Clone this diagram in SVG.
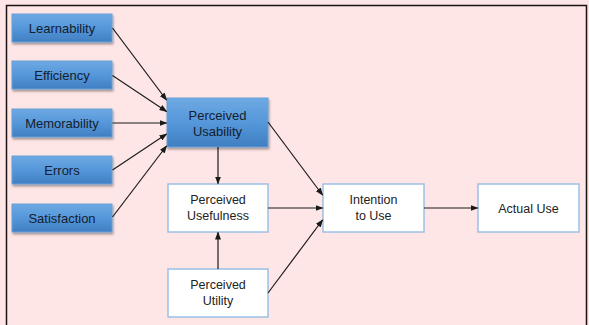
<svg xmlns="http://www.w3.org/2000/svg" width="589" height="325" viewBox="0 0 589 325">
<defs>
<linearGradient id="blue" x1="0" y1="0" x2="0" y2="1">
<stop offset="0" stop-color="#6ea9e2"/>
<stop offset="0.5" stop-color="#5597da"/>
<stop offset="1" stop-color="#3f7fc2"/>
</linearGradient>
<filter id="sh" x="-10%" y="-10%" width="130%" height="140%">
<feDropShadow dx="1" dy="2" stdDeviation="1.2" flood-color="#000" flood-opacity="0.35"/>
</filter>
<marker id="ah" markerWidth="8" markerHeight="6" refX="7" refY="3" orient="auto" markerUnits="userSpaceOnUse">
<path d="M0,0 L8,3 L0,6 Z" fill="#1a1a1a"/>
</marker>
</defs>
<style>
.b rect{fill:url(#blue);stroke:#6b9fd6;stroke-width:1;filter:url(#sh)}
.w rect{fill:#fff;stroke:#9cc0e6;stroke-width:1.5}
text{font-family:"Liberation Sans",Arial,sans-serif;font-size:12.5px;text-anchor:middle;fill:#222}
.b text{font-size:13px;fill:#14202e}
.c line{stroke:#1a1a1a;stroke-width:1.2;marker-end:url(#ah)}
</style>
<rect x="0" y="0" width="589" height="325" fill="#ffe6e6"/>
<path d="M6.5,325 V5.5 H586.5 V325" fill="none" stroke="#1a1111" stroke-width="1.5"/>
<g id="learnability" class="b"><rect x="12" y="14" width="100" height="28"/><text x="62" y="32.5">Learnability</text></g>
<g id="efficiency" class="b"><rect x="12" y="61" width="100" height="28"/><text x="62" y="80">Efficiency</text></g>
<g id="memorability" class="b"><rect x="12" y="109" width="100" height="28"/><text x="62" y="128">Memorability</text></g>
<g id="errors" class="b"><rect x="12" y="156" width="100" height="28"/><text x="62" y="175">Errors</text></g>
<g id="satisfaction" class="b"><rect x="12" y="204" width="100" height="28"/><text x="62" y="222.5">Satisfaction</text></g>
<g id="perceived-usability" class="b"><rect x="167" y="98" width="101" height="49"/><text x="217.5" y="120">Perceived</text><text x="217.5" y="136">Usability</text></g>
<g id="perceived-usefulness" class="w"><rect x="168" y="184" width="100" height="48"/><text x="218" y="204">Perceived</text><text x="218" y="220">Usefulness</text></g>
<g id="perceived-utility" class="w"><rect x="168" y="269" width="100" height="48"/><text x="218" y="289">Perceived</text><text x="218" y="305">Utility</text></g>
<g id="intention-to-use" class="w"><rect x="323" y="184" width="101" height="48"/><text x="373.5" y="204">Intention</text><text x="373.5" y="220">to Use</text></g>
<g id="actual-use" class="w"><rect x="478" y="184" width="101" height="48"/><text x="528.5" y="212.5">Actual Use</text></g>
<g id="connectors" class="c">
<line x1="112.5" y1="28" x2="166.5" y2="100"/>
<line x1="112.5" y1="75.5" x2="166.5" y2="111.5"/>
<line x1="112.5" y1="123" x2="166.5" y2="123"/>
<line x1="112.5" y1="170" x2="166.5" y2="134"/>
<line x1="112.5" y1="217" x2="166.5" y2="146"/>
<line x1="218" y1="147" x2="218" y2="183.5"/>
<line x1="268" y1="122" x2="322.5" y2="195"/>
<line x1="268" y1="208" x2="322.5" y2="208"/>
<line x1="268" y1="293" x2="322.5" y2="220"/>
<line x1="218" y1="269" x2="218" y2="232.5"/>
<line x1="424" y1="208" x2="477.5" y2="208"/>
</g>
</svg>
